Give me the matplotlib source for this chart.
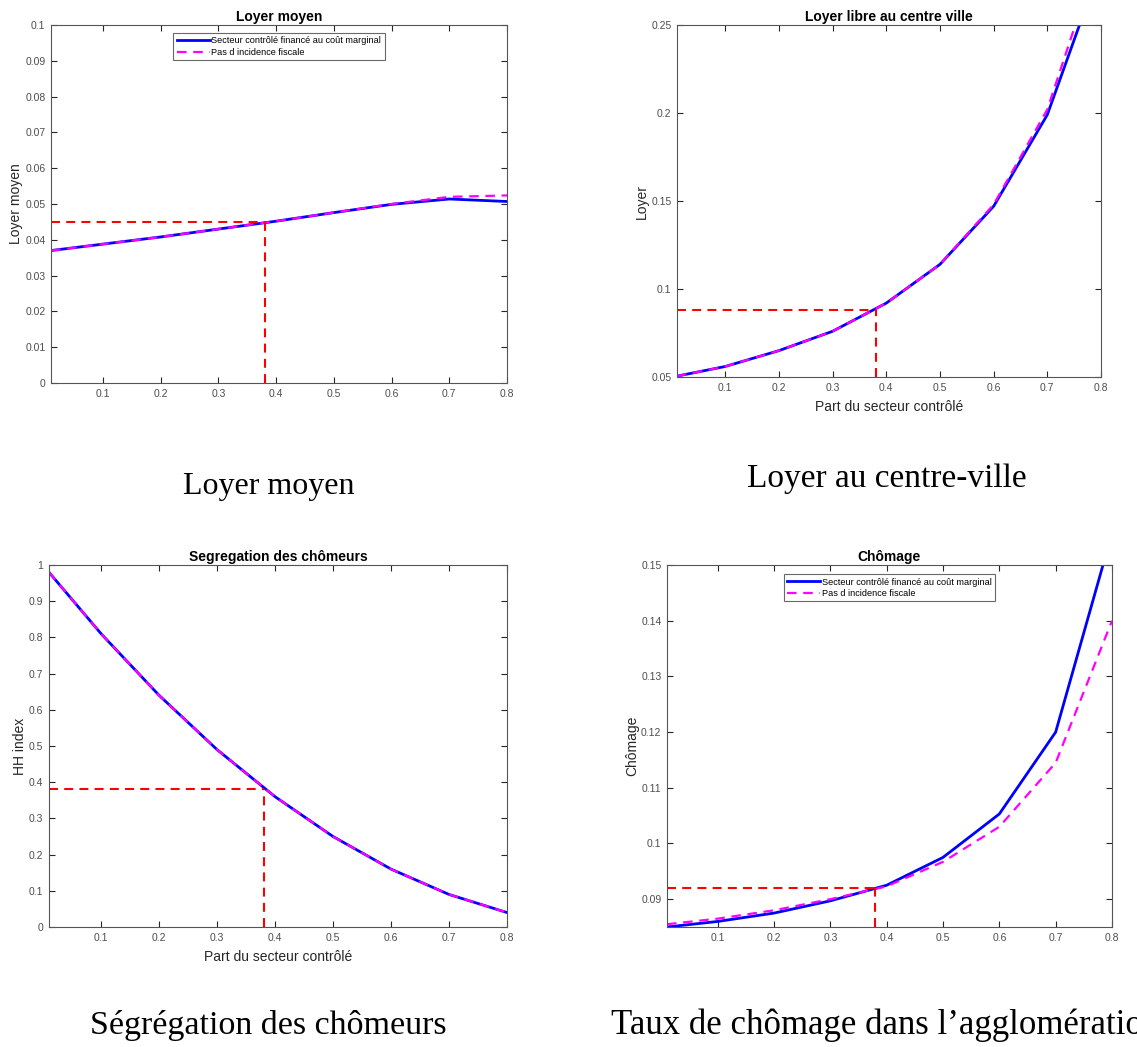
import numpy as np
import matplotlib.pyplot as plt
from matplotlib.ticker import FuncFormatter

plt.rcParams['font.family'] = ['Liberation Sans', 'DejaVu Sans']

# part du secteur controle
x = [0.01, 0.1, 0.2, 0.3, 0.4, 0.5, 0.6, 0.7, 0.8]

loyer_moyen_marg = [0.0370, 0.0388, 0.0408, 0.0430, 0.0452, 0.0476, 0.0499, 0.0514, 0.0507]
loyer_moyen_fisc = [0.0370, 0.0388, 0.0408, 0.0430, 0.0452, 0.0476, 0.0500, 0.0520, 0.0524]

loyer_centre_marg = [0.0505, 0.0560, 0.0650, 0.0760, 0.0920, 0.1140, 0.1470, 0.1990, 0.2840]
loyer_centre_fisc = [0.0505, 0.0560, 0.0650, 0.0760, 0.0920, 0.1140, 0.1480, 0.2020, 0.2940]

segregation_marg = [0.98, 0.81, 0.64, 0.49, 0.36, 0.25, 0.16, 0.09, 0.04]
segregation_fisc = [0.98, 0.81, 0.64, 0.49, 0.36, 0.25, 0.16, 0.09, 0.04]

chomage_marg = [0.0850, 0.0860, 0.0875, 0.0897, 0.0925, 0.0975, 0.1053, 0.1200, 0.1557]
chomage_fisc = [0.0855, 0.0865, 0.0880, 0.0900, 0.0923, 0.0967, 0.1030, 0.1145, 0.1400]

ref_x = 0.38
ref_y = [0.045, 0.088, 0.38, 0.092]

titles = ["Loyer moyen", "Loyer libre au centre ville", "Segregation des chômeurs", "Chômage"]
ylabels = ["Loyer moyen", "Loyer", "HH index", "Chômage"]
xlabels = ["", "Part du secteur contrôlé", "Part du secteur contrôlé", ""]
ylims = [(0, 0.1), (0.05, 0.25), (0, 1), (0.085, 0.15)]
yticks = [np.arange(0, 0.1001, 0.01), np.arange(0.05, 0.2501, 0.05),
          np.arange(0, 1.001, 0.1), np.arange(0.09, 0.1501, 0.01)]
captions = ["Loyer moyen", "Loyer au centre-ville", "Ségrégation des chômeurs",
            "Taux de chômage dans l\u2019agglomération"]

series = [(loyer_moyen_marg, loyer_moyen_fisc), (loyer_centre_marg, loyer_centre_fisc),
          (segregation_marg, segregation_fisc), (chomage_marg, chomage_fisc)]

positions = [
    [0.0449, 0.6342, 0.4010, 0.3419],
    [0.5954, 0.6399, 0.3729, 0.3362],
    [0.0431, 0.1146, 0.4028, 0.3457],
    [0.5866, 0.1146, 0.3914, 0.3457],
]
caption_xy = [(0.236, 0.528), (0.780, 0.535), (0.236, 0.012), (0.537, 0.012)]
caption_ha = ["center", "center", "center", "left"]
caption_size = [23, 24, 24.5, 25]
legend_anchor = [(0.5, 0.977), None, None, (0.5, 0.974)]

fig = plt.figure(figsize=(11.37, 10.47), dpi=100)
grey = "#262626"
tick_grey = "#4d4d4d"
dash = (0, (4.3, 3.0))

for i in range(4):
    ax = fig.add_axes(positions[i])
    marg, fisc = series[i]
    ax.plot(x, marg, color="blue", lw=2, label="Secteur contrôlé financé au coût marginal")
    ax.plot(x, fisc, color="magenta", lw=1.6, ls=dash, label="Pas d incidence fiscale")
    lo, hi = ylims[i]
    ax.plot([x[0], ref_x], [ref_y[i], ref_y[i]], color="red", lw=1.5, ls=dash)
    ax.plot([ref_x, ref_x], [lo, ref_y[i]], color="red", lw=1.5, ls=dash)
    ax.set_xlim(0.01, 0.8)
    ax.set_ylim(lo, hi)
    ax.set_xticks(np.arange(0.1, 0.801, 0.1))
    ax.set_yticks(yticks[i])
    fmt = FuncFormatter(lambda v, p: "%g" % round(v, 4))
    ax.xaxis.set_major_formatter(fmt)
    ax.yaxis.set_major_formatter(fmt)
    ax.tick_params(direction="in", top=True, right=True, labelsize=7.5, length=4,
                   width=0.8, colors=grey, labelcolor=tick_grey, pad=4)
    for s in ax.spines.values():
        s.set_color("#555555")
        s.set_linewidth(0.8)
    ax.set_title(titles[i], fontsize=10, fontweight="bold", pad=3)
    ax.set_ylabel(ylabels[i], fontsize=10, color=grey, labelpad=1.5)
    if xlabels[i]:
        ax.set_xlabel(xlabels[i], fontsize=10, color=grey, labelpad=5)
    if legend_anchor[i] is not None:
        leg = ax.legend(loc="upper center", bbox_to_anchor=legend_anchor[i], fontsize=6.6,
                        frameon=True, fancybox=False, edgecolor="#444444",
                        handlelength=3.6, borderpad=0.35, labelspacing=0.25,
                        handletextpad=0.2, borderaxespad=0.0)
        leg.get_frame().set_linewidth(0.8)
    fig.text(caption_xy[i][0], caption_xy[i][1], captions[i], fontsize=caption_size[i],
             family="Liberation Serif", ha=caption_ha[i], va="baseline", color="black")

fig.savefig("out.png", dpi=100)
